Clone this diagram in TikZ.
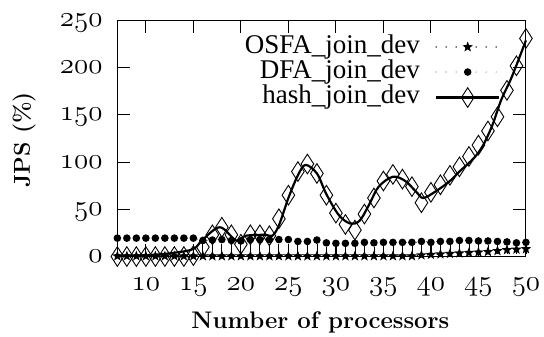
\RequirePackage{fix-cm}
\documentclass[tikz,border=0pt]{standalone}
\usepackage{fontspec}
\usetikzlibrary{shapes.geometric}
\newfontfamily\legendfont{Liberation Serif}
\newcommand\osnum[1]{{\fontencoding{OML}\fontfamily{cmm}\fontseries{m}\fontshape{it}\fontsize{29}{31}\selectfont #1}}

\tikzset{
  frameline/.style={line width=1pt},
  ylbl/.style={anchor=base east, inner sep=0pt, xshift=-14.6pt, yshift=-6pt},
  xlbl/.style={anchor=base, inner sep=0pt, yshift=-33.5pt},
  axislbl/.style={inner sep=0pt, font=\bfseries\fontsize{23}{26}\selectfont},
  legendlbl/.style={anchor=base east, inner sep=0pt, font=\legendfont\fontsize{27}{29}\selectfont},
  osfapt/.style={star, star points=5, star point ratio=2.4, fill=black, inner sep=0pt, minimum size=11pt},
  dfapt/.style={circle, fill=black, inner sep=0pt, minimum size=7.6pt},
  hashpt/.style={diamond, draw=black, line width=0.9pt, inner sep=0pt, minimum width=13pt, minimum height=20pt},
  osfaline/.style={line width=1.6pt, dash pattern=on 0pt off 10pt, line cap=round},
  dfaline/.style={line width=0.9pt, dash pattern=on 0pt off 10pt, line cap=round},
  hashline/.style={line width=2.2pt, line join=round},
  stem/.style={line width=0.8pt}
}

\begin{document}
\begin{tikzpicture}[x=9.5pt,y=0.944pt]
\useasboundingbox (-5.35,-84.2) rectangle (51.9,271.7);

% frame and ticks
\draw[frameline] (7,0) rectangle (50,250);
\foreach \v in {50,100,150,200} {
  \draw[frameline] (7,\v) -- ++(12.7pt,0);
  \draw[frameline] (50,\v) -- ++(-12.7pt,0);
}
\foreach \n in {10,15,...,45} {
  \draw[frameline] (\n,0) -- ++(0,12.7pt);
  \draw[frameline] (\n,250) -- ++(0,-12.7pt);
}
\foreach \v in {0,50,...,250}
  \node[ylbl] (y\v) at (7,\v) {\osnum{\v}};
\foreach \n in {10,15,...,50}
  \node[xlbl] (x\n) at (\n,0) {\osnum{\n}};

\node[axislbl, rotate=90] (ylabel) at (-2.82,123.4) {JPS (\%)};
\node[axislbl, anchor=base, font=\bfseries\fontsize{24}{26}\selectfont] (xlabel) at (28.37,0) [yshift=-71.5pt] {Number of processors};

% OSFA_join_dev
\draw[osfaline] plot coordinates {(7,0.5) (38,0.5) (39,1.5) (40,2) (41,2.5) (42,3) (43,3.5) (44,4) (45,4.5) (46,5) (47,6) (48,7) (49,7.5) (50,8)};
\foreach \n/\v in {7/0.5,8/0.5,9/0.5,10/0.5,11/0.5,12/0.5,13/0.5,14/0.5,15/0.5,16/0.5,17/0.5,18/0.5,19/0.5,20/0.5,21/0.5,22/0.5,23/0.5,24/0.5,25/0.5,26/0.5,27/0.5,28/0.5,29/0.5,30/0.5,31/0.5,32/0.5,33/0.5,34/0.5,35/0.5,36/0.5,37/0.5,38/0.5,39/1.5,40/2,41/2.5,42/3,43/3.5,44/4,45/4.5,46/5,47/6,48/7,49/7.5,50/8}
  \node[osfapt] (o\n) at (\n,\v) {};

% DFA_join_dev
\draw[dfaline] plot coordinates {(7,19.5) (15,19.5) (16,17) (18,18) (20,16.5) (25,18) (27,16) (28,17.5) (29,14.5) (32,14) (33,15) (38,15) (43,17) (47,16) (49,14.5) (50,15)};
\foreach \n/\v in {7/19.5,8/19.5,9/19.5,10/19.5,11/19.5,12/19.5,13/19.5,14/19.5,15/19.5,16/17,17/17.5,18/18,19/17,20/16.5,21/18,22/18,23/18,24/18,25/18,26/16,27/16,28/17.5,29/14.5,30/14,31/14,32/14,33/15,34/14.5,35/15,36/15,37/15,38/15,39/16,40/15,41/16,42/16,43/17,44/17,45/16.5,46/16.5,47/16,48/15.5,49/14.5,50/15} {
  \node[dfapt] (d\n) at (\n,\v) {};
  \ifnum\n>15 \draw[stem] (d\n.south) -- (\n,3); \fi
}

% hash_join_dev
\foreach \n/\v in {7/0,8/0,9/0,10/0,11/0,12/0,13/0,14/0,15/1,16/10,17/23,18/31,19/23,20/13,21/23,22/23,23/22,24/40,25/65,26/90,27/98,28/88,29/65,30/46,31/34,32/28,33/45,34/62,35/80,36/87,37/82,38/74,39/57,40/68,41/76,42/86,43/95,44/106,45/118,46/133,47/148,48/176,49/202,50/231}
  \node[hashpt] (h\n) at (\n,\v) {};
\draw[hashline] plot[smooth, tension=0.55] coordinates {(7,1) (9,1) (11,2) (13,4) (15,8) (16,18) (17.8,31) (19.5,17) (20.5,22) (22.5,23) (23.3,22) (24,33) (25,62) (26,86) (26.8,97) (28,88) (29,66) (30.3,44) (31.5,35) (32.5,38) (33.5,55) (34.5,74) (36,84.5) (37.3,80) (38.5,68) (39.2,62) (40.5,69) (42,80) (43,90) (44.5,104) (45.5,118) (46.5,140) (47.4,166) (48.5,190) (50,229)};

% legend
\node[legendlbl] (osfaLbl) at (38.86,215.3) {OSFA\_join\_dev};
\node[legendlbl] (dfaLbl) at (38.86,188.8) {DFA\_join\_dev};
\node[legendlbl] (hashLbl) at (38.86,162.3) {hash\_join\_dev};
\coordinate (osfaA) at (40.55,221.9);
\coordinate (osfaB) at (47.19,221.9);
\coordinate (dfaA) at (40.55,195.4);
\coordinate (dfaB) at (47.19,195.4);
\coordinate (hashA) at (40.55,168.4);
\coordinate (hashB) at (47.19,168.4);
\draw[osfaline] (osfaA) -- (osfaB);
\node[osfapt] (osfaKey) at (43.87,221.9) {};
\draw[dfaline] (dfaA) -- (dfaB);
\node[dfapt] (dfaKey) at (43.87,195.4) {};
\draw[hashline] (hashA) -- (hashB);
\node[hashpt] (hashKey) at (43.87,168.4) {};
\end{tikzpicture}
\end{document}
